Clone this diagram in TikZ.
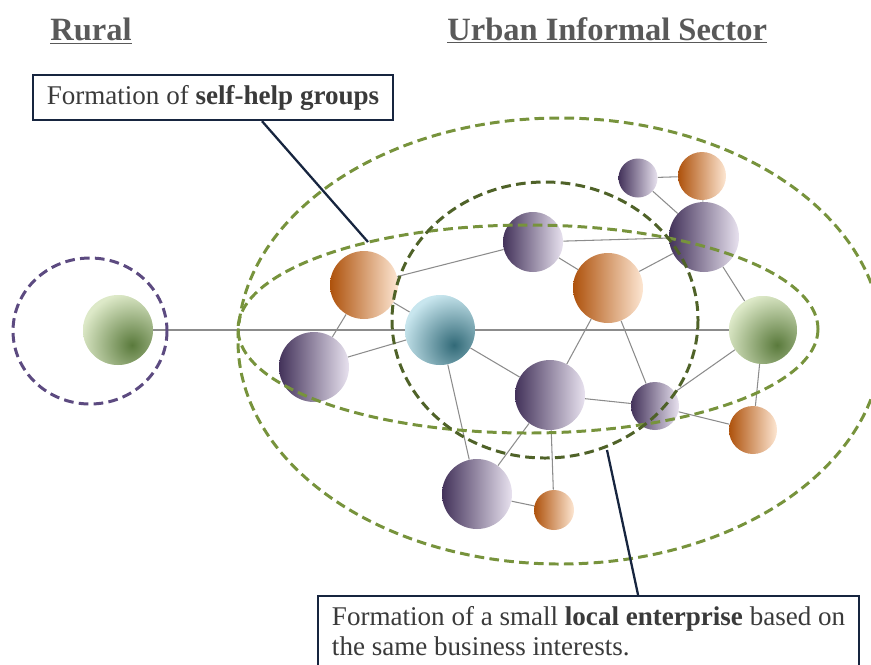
\documentclass[tikz,border=0pt]{standalone}
\usepackage{fontspec}
\setmainfont{Liberation Serif}
\usepackage{xcolor}
\usepackage{tikz}
\usetikzlibrary{arrows}

\definecolor{purpD}{HTML}{43325A}
\definecolor{purpM}{HTML}{B2A1CA}
\definecolor{purpL}{HTML}{E8E2EF}
\definecolor{orD}{HTML}{AE520C}
\definecolor{orM}{HTML}{F6B683}
\definecolor{orL}{HTML}{FDE6D2}
\definecolor{gL}{HTML}{DDE9C8}
\definecolor{gD}{HTML}{5A7A3C}
\definecolor{bL}{HTML}{C8E6EE}
\definecolor{bD}{HTML}{326A78}
\definecolor{linkgray}{HTML}{8C8C8C}
\definecolor{olive}{HTML}{77933C}
\definecolor{darkolive}{HTML}{4F6228}
\definecolor{violet}{HTML}{5C4A80}
\definecolor{navy}{HTML}{17253F}
\definecolor{txtgray}{HTML}{3A3A3A}
\definecolor{headgray}{HTML}{595959}

\begin{document}
\begin{tikzpicture}[x=0.02cm, y=-0.02cm,
    ball/.style={circle, inner sep=0pt, minimum size=#1},
    purp/.style={ball=#1, left color=purpD, middle color=purpM, right color=purpL},
    orng/.style={ball=#1, left color=orD, middle color=orM, right color=orL},
    grn/.style={ball=#1, fill=gL, path picture={\shade[inner color=gD, outer color=gL]
      ([xshift=0.28cm, yshift=-0.3cm]path picture bounding box.center) circle [radius=1.05cm];}},
    blu/.style={ball=#1, fill=bL, path picture={\shade[inner color=bD, outer color=bL]
      ([xshift=0.28cm, yshift=-0.3cm]path picture bounding box.center) circle [radius=1.05cm];}},
    link/.style={draw=linkgray, line width=0.6pt},
    spine/.style={draw=linkgray, line width=1.2pt},
    ring/.style={line width=1.7pt, dash pattern=on 5.5pt off 3pt},
    pointer/.style={draw=navy, line width=1.3pt},
    note/.style={draw=navy, line width=1.3pt, fill=white, text=txtgray,
      font=\fontsize{15.4}{17.5}\selectfont},
    head/.style={text=headgray, inner sep=0pt,
      font=\bfseries\fontsize{18.5}{22}\selectfont}]
  \useasboundingbox (0,0) rectangle (871,664);

  % headings
  \node[head, anchor=base west] (rural) at (50,40) {\underline{Rural}};
  \node[head, anchor=base west] (urban) at (447,40) {\underline{Urban Informal Sector}};

  % members
  \node[grn=1.4cm] (G1) at (118,330) {};
  \node[grn=1.36cm] (G2) at (763,330) {};
  \node[blu=1.4cm] (B) at (440,330) {};
  \node[orng=1.36cm] (O1) at (364,285) {};
  \node[orng=1.4cm] (O2) at (608,288) {};
  \node[orng=0.96cm] (O3) at (702,176) {};
  \node[orng=0.96cm] (O4) at (753,430) {};
  \node[orng=0.8cm] (O5) at (554,510) {};
  \node[purp=1.4cm] (P1) at (314,367) {};
  \node[purp=1.2cm] (P2) at (533,242) {};
  \node[purp=0.78cm] (P3) at (638,178) {};
  \node[purp=1.4cm] (P4) at (704,237) {};
  \node[purp=1.4cm] (P5) at (550,395) {};
  \node[purp=0.96cm] (P6) at (655,406) {};
  \node[purp=1.4cm] (P7) at (477,494) {};

  % ties
  \draw[spine] (G1) -- (B);
  \draw[spine] (B) -- (G2);
  \draw[link] (O1) -- (P2);
  \draw[link] (O1) -- (B);
  \draw[link] (O1) -- (P1);
  \draw[link] (P1) -- (B);
  \draw[link] (B) -- (P5);
  \draw[link] (B) -- (P7);
  \draw[link] (P2) -- (O2);
  \draw[link] (P2) -- (P4);
  \draw[link] (O2) -- (P4);
  \draw[link] (O2) -- (P5);
  \draw[link] (O2) -- (P6);
  \draw[link] (P3) -- (P4);
  \draw[link] (P3) -- (O3);
  \draw[link] (O3) -- (P4);
  \draw[link] (P4) -- (G2);
  \draw[link] (G2) -- (P6);
  \draw[link] (G2) -- (O4);
  \draw[link] (P6) -- (O4);
  \draw[link] (P5) -- (P6);
  \draw[link] (P5) -- (P7);
  \draw[link] (P5) -- (O5);
  \draw[link] (P7) -- (O5);

  % groupings
  \draw[ring, violet] (90,331) ellipse [x radius=77, y radius=73];
  \draw[ring, olive] (560,341) ellipse [x radius=322, y radius=223];
  \draw[ring, olive] (528,329) ellipse [x radius=290, y radius=104];
  \draw[ring, darkolive] (545,320) ellipse [x radius=153, y radius=138];

  % call-outs
  \node[note, minimum width=7.2cm, minimum height=0.9cm, inner sep=0pt]
    (note1) at (213,97.5) {Formation of \textbf{self-help groups}};
  \node[note, anchor=north west, minimum width=10.82cm, align=left,
    inner ysep=0.2cm, text depth=1.5cm]
    (note2) at (317,595) {Formation of a small \textbf{local enterprise} based on\\
    the same business interests.};
  \coordinate (t1) at (368,242);
  \coordinate (t2) at (607,450);
  \draw[pointer] ([xshift=0.98cm]note1.south) -- (t1);
  \draw[pointer] (t2) -- ([xshift=0.99cm]note2.north);
\end{tikzpicture}
\end{document}
